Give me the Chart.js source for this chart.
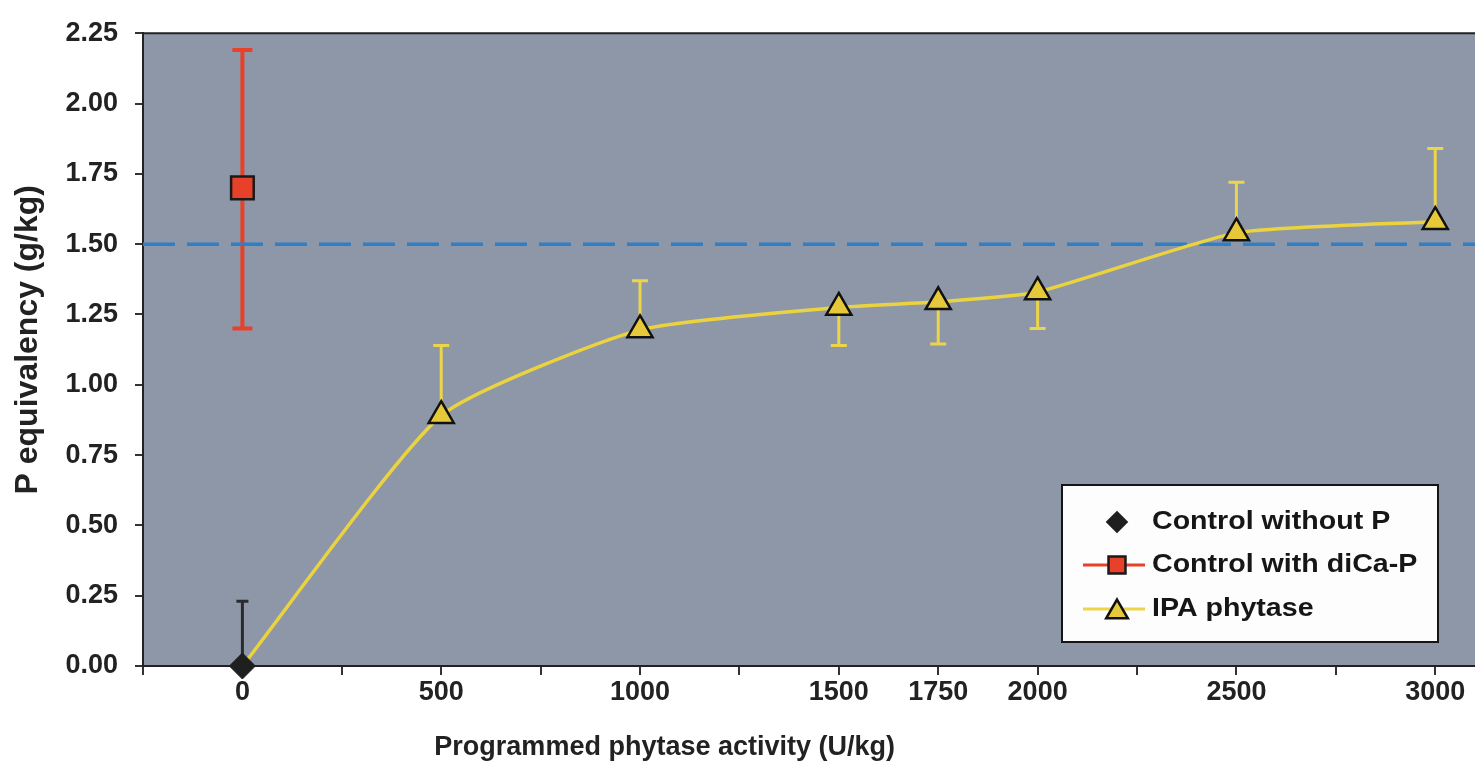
<!DOCTYPE html>
<html>
<head>
<meta charset="utf-8">
<script src="https://cdn.jsdelivr.net/npm/chart.js@4.4.0/dist/chart.umd.min.js"></script>
<style>
  html, body { margin: 0; padding: 0; background: #fff; overflow: hidden; }
  #wrap { width: 1475px; height: 772px; }
  canvas { display: block; }
</style>
</head>
<body>
<div id="wrap"><canvas id="chart"></canvas></div>
<script>
// values
const xLabels = [0, 500, 1000, 1500, 1750, 2000, 2500, 3000];

const noPActivity = [0];
const noPValues = [0];
const noPUpper = [0.23];

const diCaActivity = [0];
const diCaValues = [1.70];
const diCaUpper = [2.19];
const diCaLower = [1.20];

const ipaActivity = [0, 500, 1000, 1500, 1750, 2000, 2500, 3000];
const ipaValues = [0, 0.89, 1.195, 1.275, 1.295, 1.33, 1.54, 1.58];
const ipaUpper = [null, 1.14, 1.37, null, null, null, 1.72, 1.84];
const ipaLower = [null, null, null, 1.14, 1.145, 1.20, null, null];

const referenceP = 1.5;

const xMin = -250, xMax = 3100;
const FONT = '"Liberation Sans", Arial, sans-serif';

function toPoints(xs, ys) {
    return xs.map((x, i) => ({ x: x, y: ys[i] }));
}

const errorBars = [
    { xs: noPActivity, ys: noPValues, upper: noPUpper, lower: null, color: '#2b2b2b', width: 3, cap: 12 },
    { xs: diCaActivity, ys: diCaValues, upper: diCaUpper, lower: diCaLower, color: '#e8412a', width: 4, cap: 20 },
    { xs: ipaActivity, ys: ipaValues, upper: ipaUpper, lower: ipaLower, color: '#ecd548', width: 3, cap: 16 }
];

const plotBackground = {
    id: 'plotBackground',
    beforeDraw(chart) {
        const a = chart.chartArea, ctx = chart.ctx;
        ctx.save();
        ctx.fillStyle = '#8e97a8';
        ctx.fillRect(a.left, a.top, a.right - a.left, a.bottom - a.top);
        ctx.strokeStyle = '#222';
        ctx.lineWidth = 2;
        ctx.beginPath();
        ctx.moveTo(a.left, a.top);
        ctx.lineTo(a.right, a.top);
        ctx.stroke();
        ctx.restore();
    }
};

const errorBarPlugin = {
    id: 'errorBarPlugin',
    beforeDatasetsDraw(chart) {
        const ctx = chart.ctx, xs = chart.scales.x, ys = chart.scales.y;
        ctx.save();
        errorBars.forEach(eb => {
            ctx.strokeStyle = eb.color;
            ctx.lineWidth = eb.width;
            eb.xs.forEach((xv, i) => {
                const px = xs.getPixelForValue(xv);
                const py = ys.getPixelForValue(eb.ys[i]);
                [eb.upper, eb.lower].forEach(arr => {
                    if (!arr || arr[i] == null) return;
                    const pe = ys.getPixelForValue(arr[i]);
                    ctx.beginPath();
                    ctx.moveTo(px, py);
                    ctx.lineTo(px, pe);
                    ctx.moveTo(px - eb.cap / 2, pe);
                    ctx.lineTo(px + eb.cap / 2, pe);
                    ctx.stroke();
                });
            });
        });
        ctx.restore();
    }
};

const legendAndTitle = {
    id: 'legendAndTitle',
    afterDraw(chart) {
        const ctx = chart.ctx, a = chart.chartArea;
        const x0 = a.right - 37 - 376, y0 = a.bottom - 24 - 157;
        ctx.save();
        ctx.fillStyle = '#fdfdfd';
        ctx.fillRect(x0, y0, 376, 157);
        ctx.strokeStyle = '#151515';
        ctx.lineWidth = 2;
        ctx.strokeRect(x0, y0, 376, 157);

        const rows = [
            { ds: 0, y: y0 + 37, line: null, style: 'rectRot', r: 9.5 },
            { ds: 1, y: y0 + 80, line: '#e8412a', style: 'rect', r: 12 },
            { ds: 2, y: y0 + 124, line: '#ecd548', style: 'triangle', r: 12.5 }
        ];
        rows.forEach(row => {
            const ds = chart.data.datasets[row.ds];
            const cx = x0 + 55;
            if (row.line) {
                ctx.strokeStyle = row.line;
                ctx.lineWidth = 3;
                ctx.beginPath();
                ctx.moveTo(x0 + 21, row.y);
                ctx.lineTo(x0 + 83, row.y);
                ctx.stroke();
            }
            ctx.fillStyle = ds.pointBackgroundColor;
            ctx.strokeStyle = ds.pointBorderColor;
            ctx.lineWidth = 2.5;
            Chart.helpers.drawPoint(ctx, { pointStyle: row.style, radius: row.r, rotation: 0, borderWidth: 2.5 }, cx, row.style === 'triangle' ? row.y + 3 : row.y);

            ctx.save();
            ctx.translate(x0 + 90, row.y);
            ctx.scale(1.1, 1);
            ctx.fillStyle = '#161616';
            ctx.font = 'bold 26px ' + FONT;
            ctx.textBaseline = 'middle';
            ctx.textAlign = 'left';
            ctx.fillText(ds.label, 0, 0);
            ctx.restore();
        });

        // axis titles
        ctx.fillStyle = '#222';
        ctx.font = 'bold 27px ' + FONT;
        ctx.textAlign = 'center';
        ctx.textBaseline = 'alphabetic';
        ctx.fillText('Programmed phytase activity (U/kg)', chart.scales.x.getPixelForValue(1062), 755);

        ctx.save();
        ctx.translate(28, chart.scales.y.getPixelForValue(1.16));
        ctx.rotate(-Math.PI / 2);
        ctx.font = 'bold 32px ' + FONT;
        ctx.textBaseline = 'middle';
        ctx.fillText('P equivalency (g/kg)', 0, 0);
        ctx.restore();
        ctx.restore();
    }
};

const ctx = document.getElementById('chart');
new Chart(ctx, {
    type: 'line',
    data: {
        datasets: [
            {
                label: 'Control without P',
                data: toPoints(noPActivity, noPValues),
                showLine: false,
                clip: false,
                pointStyle: 'rectRot',
                pointRadius: 13,
                pointBackgroundColor: '#1f1f1f',
                pointBorderColor: '#1f1f1f',
                pointBorderWidth: 1
            },
            {
                label: 'Control with diCa-P',
                data: toPoints(diCaActivity, diCaValues),
                showLine: false,
                pointStyle: 'rect',
                pointRadius: 16,
                pointBackgroundColor: '#e8412a',
                pointBorderColor: '#1a1a1a',
                pointBorderWidth: 2.5
            },
            {
                label: 'IPA phytase',
                data: toPoints(ipaActivity, ipaValues),
                borderColor: '#ead33e',
                borderWidth: 3.5,
                tension: 0.18,
                pointStyle: 'triangle',
                pointRadius: c => (c.raw && c.raw.x === 0 ? 0 : 14.5),
                pointBackgroundColor: '#e6c93a',
                pointBorderColor: '#111',
                pointBorderWidth: 2.5
            },
            {
                label: 'reference',
                data: [{ x: xMin, y: referenceP }, { x: xMax, y: referenceP }],
                borderColor: '#2f7fc4',
                borderWidth: 3.5,
                borderDash: [32, 12],
                pointRadius: 0
            }
        ]
    },
    options: {
        responsive: true,
        maintainAspectRatio: false,
        animation: false,
        devicePixelRatio: 1,
        layout: { autoPadding: false, padding: { top: 23, right: 0, bottom: 0, left: 0 } },
        plugins: {
            legend: { display: false },
            tooltip: { enabled: false }
        },
        scales: {
            x: {
                type: 'linear',
                min: xMin,
                max: xMax,
                border: { display: true, color: '#222', width: 2 },
                grid: { display: true, drawOnChartArea: false, tickLength: 9, color: '#333', lineWidth: 2 },
                ticks: {
                    stepSize: 250,
                    includeBounds: false,
                    autoSkip: false,
                    maxRotation: 0,
                    padding: 1,
                    color: '#222',
                    font: { family: FONT, size: 27, weight: 'bold' },
                    callback: v => (xLabels.includes(v) ? String(v) : '')
                },
                afterFit: s => { s.height = 106; s.paddingRight = 0; s.paddingLeft = 0; }
            },
            y: {
                min: 0,
                max: 2.25,
                border: { display: true, color: '#222', width: 2 },
                grid: { display: true, drawOnChartArea: false, tickLength: 8, color: '#333', lineWidth: 2 },
                ticks: {
                    stepSize: 0.25,
                    padding: 17,
                    color: '#222',
                    font: { family: FONT, size: 27, weight: 'bold' },
                    callback: v => v.toFixed(2)
                },
                afterFit: s => { s.width = 143; }
            }
        }
    },
    plugins: [plotBackground, errorBarPlugin, legendAndTitle]
});
</script>
</body>
</html>
